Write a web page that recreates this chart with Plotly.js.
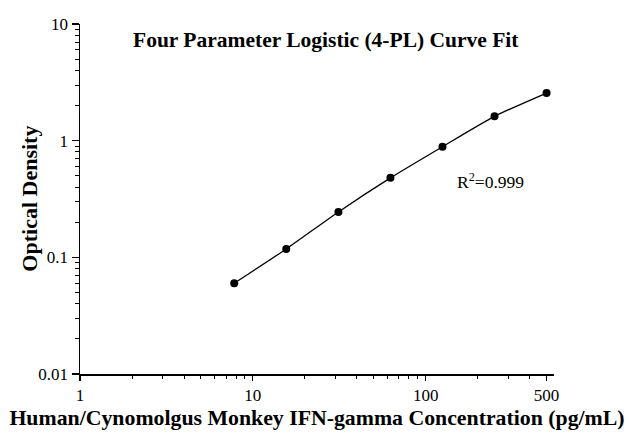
<!DOCTYPE html>
<html>
<head>
<meta charset="utf-8">
<script src="https://cdn.plot.ly/plotly-3.0.1.min.js"></script>
<style>html,body{margin:0;padding:0;background:#fff;}#chart{width:629px;height:434px;}</style>
</head>
<body>
<div id="chart"></div>
<script>
const concentration = [7.8, 15.6, 31.25, 62.5, 125, 250, 500];
const opticalDensity = [0.060, 0.118, 0.245, 0.480, 0.888, 1.616, 2.56];
const xTickVals = [1, 10, 100, 500];
const xTickText = ["1", "10", "100", "500"];
const yTickVals = [0.01, 0.1, 1, 10];
const yTickText = ["0.01", "0.1", "1", "10"];
const xMinorVals = [2,3,4,5,6,7,8,9,20,30,40,50,60,70,80,90,200,300,400];
const yMinorVals = [0.02,0.03,0.04,0.05,0.06,0.07,0.08,0.09,0.2,0.3,0.4,0.5,0.6,0.7,0.8,0.9,2,3,4,5,6,7,8,9];

const font = "Liberation Serif, Times New Roman, serif";

const trace = {
  x: concentration,
  y: opticalDensity,
  mode: "lines+markers",
  type: "scatter",
  line: {color: "#000", width: 1.3, shape: "spline", smoothing: 0.6},
  marker: {color: "#000", size: 8},
  hoverinfo: "x+y",
  showlegend: false
};

const layout = {
  width: 629, height: 434,
  margin: {l: 80, r: 75, t: 24, b: 60},
  paper_bgcolor: "#fff", plot_bgcolor: "#fff",
  font: {family: font, color: "#000", size: 17},
  xaxis: {
    type: "log", range: [0, 2.742],
    showline: true, linecolor: "#000", linewidth: 1.5,
    showgrid: false, zeroline: false,
    tickmode: "array", tickvals: xTickVals, ticktext: xTickText,
    ticks: "outside", ticklen: 5, tickwidth: 1.2, tickcolor: "#000",
    tickfont: {family: font, size: 17, color: "#000"},
    minor: {tickmode: "array", tickvals: xMinorVals, ticks: "outside", ticklen: 3, tickwidth: 1, tickcolor: "#000", showgrid: false},
    title: {text: "<b>Human/Cynomolgus Monkey IFN-gamma Concentration (pg/mL)</b>", font: {family: font, size: 21.8, color: "#000"}, standoff: 6}
  },
  yaxis: {
    type: "log", range: [-2, 1],
    showline: true, linecolor: "#000", linewidth: 1.5,
    showgrid: false, zeroline: false,
    tickmode: "array", tickvals: yTickVals, ticktext: yTickText,
    ticks: "outside", ticklen: 7, tickwidth: 1.2, tickcolor: "#000",
    tickfont: {family: font, size: 17, color: "#000"},
    minor: {tickmode: "array", tickvals: yMinorVals, ticks: "outside", ticklen: 4, tickwidth: 1, tickcolor: "#000", showgrid: false}
  },
  annotations: [
    {text: "<b>Four Parameter Logistic (4-PL) Curve Fit</b>", xref: "paper", yref: "paper",
     x: 0.519, y: 0.954, xanchor: "center", yanchor: "middle", showarrow: false,
     font: {family: font, size: 21.5, color: "#000"}},
    {text: "<b>Optical Density</b>", xref: "paper", yref: "paper",
     x: -0.1055, y: 0.501, xanchor: "center", yanchor: "middle", showarrow: false,
     textangle: -90, font: {family: font, size: 22, color: "#000"}},
    {text: "R<sup>2</sup>=0.999", xref: "paper", yref: "paper",
     x: 0.865, y: 0.551, xanchor: "center", yanchor: "middle", showarrow: false,
     font: {family: font, size: 17.5, color: "#000"}}
  ]
};

Plotly.newPlot("chart", [trace], layout, {displayModeBar: false, staticPlot: true});
</script>
</body>
</html>
